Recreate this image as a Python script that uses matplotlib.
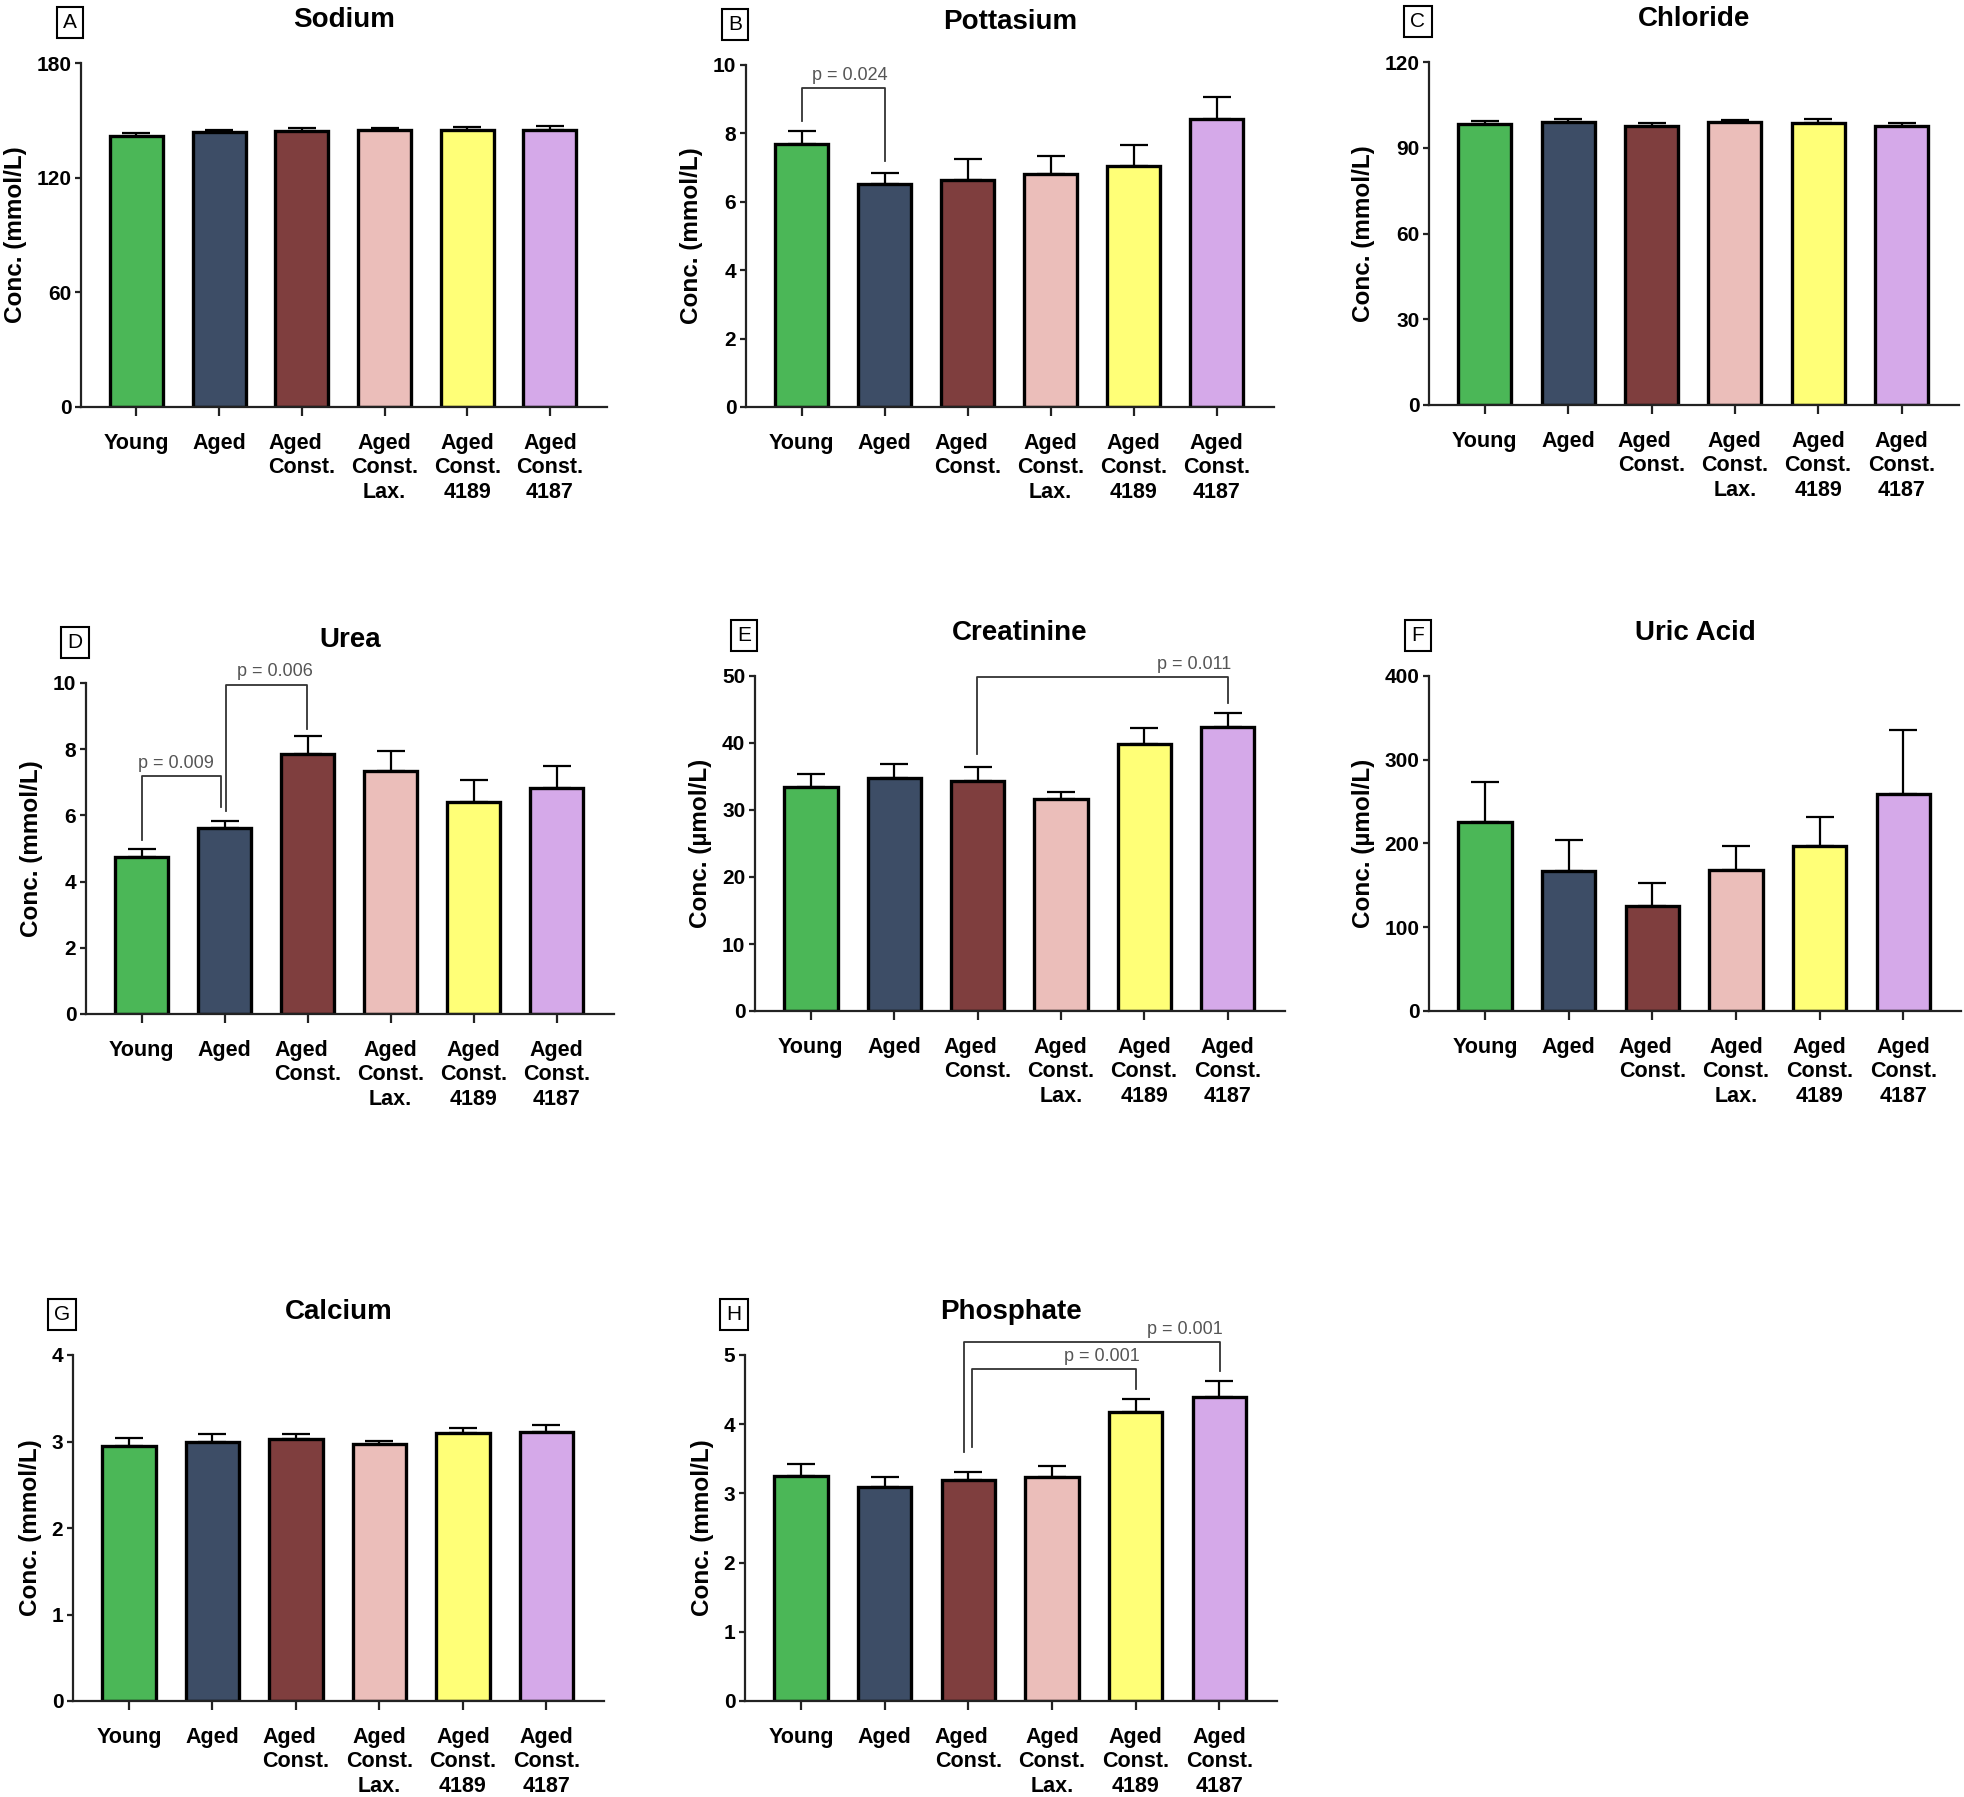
import numpy as np
import matplotlib
matplotlib.use('Agg')
import matplotlib.pyplot as plt

plt.rcParams['font.family'] = ['Liberation Sans', 'DejaVu Sans']

# group names and per-panel values (mean, sem)
groups = ['Young', 'Aged', 'Aged\nConst.', 'Aged\nConst.\nLax.',
          'Aged\nConst.\n4189', 'Aged\nConst.\n4187']

sodium_mean = [142.0, 143.9, 144.6, 145.1, 145.1, 145.1]
sodium_sem = [1.5, 1.2, 1.4, 0.9, 1.4, 2.1]
potassium_mean = [7.69, 6.53, 6.64, 6.82, 7.05, 8.41]
potassium_sem = [0.38, 0.32, 0.62, 0.53, 0.60, 0.66]
chloride_mean = [98.2, 98.9, 97.7, 98.9, 98.6, 97.6]
chloride_sem = [1.2, 1.3, 1.0, 0.9, 1.5, 1.1]
urea_mean = [4.73, 5.61, 7.85, 7.35, 6.41, 6.84]
urea_sem = [0.25, 0.23, 0.55, 0.59, 0.67, 0.65]
creat_mean = [33.5, 34.8, 34.4, 31.7, 39.9, 42.4]
creat_sem = [1.8, 2.0, 2.0, 1.0, 2.3, 2.1]
uric_mean = [226, 167, 125, 168, 197, 259]
uric_sem = [47, 37, 28, 29, 35, 76]
calcium_mean = [2.95, 2.99, 3.03, 2.97, 3.10, 3.11]
calcium_sem = [0.09, 0.10, 0.06, 0.04, 0.06, 0.08]
phosphate_mean = [3.25, 3.09, 3.19, 3.23, 4.17, 4.39]
phosphate_sem = [0.17, 0.14, 0.12, 0.16, 0.20, 0.23]

bar_colors = ['#4BB757', '#3D4D66', '#7F3E3E', '#EBBEBA', '#FFFF77', '#D5A9E9']
mmol = 'Conc. (mmol/L)'
umol = 'Conc. (\u00b5mol/L)'

# letter, title, ylabel, mean, sem, ytop, yticks, axes box in pixels (left, top, right, bottom)
panels = [
    ('A', 'Sodium', mmol, sodium_mean, sodium_sem, 180, [0, 60, 120, 180], (81, 63, 607, 407)),
    ('B', 'Pottasium', mmol, potassium_mean, potassium_sem, 10, [0, 2, 4, 6, 8, 10], (746, 65, 1274, 407)),
    ('C', 'Chloride', mmol, chloride_mean, chloride_sem, 120, [0, 30, 60, 90, 120], (1429, 62, 1959, 405)),
    ('D', 'Urea', mmol, urea_mean, urea_sem, 10, [0, 2, 4, 6, 8, 10], (86, 683, 614, 1014)),
    ('E', 'Creatinine', umol, creat_mean, creat_sem, 50, [0, 10, 20, 30, 40, 50], (755, 676, 1285, 1011)),
    ('F', 'Uric Acid', umol, uric_mean, uric_sem, 400, [0, 100, 200, 300, 400], (1429, 676, 1961, 1011)),
    ('G', 'Calcium', mmol, calcium_mean, calcium_sem, 4, [0, 1, 2, 3, 4], (73, 1355, 604, 1701)),
    ('H', 'Phosphate', mmol, phosphate_mean, phosphate_sem, 5, [0, 1, 2, 3, 4, 5], (745, 1355, 1277, 1701)),
]

# significance brackets: panel -> (x_left, x_right, y_bar, y_left_end, y_right_end, text, text_x)
brackets = {
    'B': [(0.0, 1.0, 9.32, 8.37, 7.2, 'p = 0.024', 0.58)],
    'D': [(0.0, 0.96, 7.19, 5.27, 6.26, 'p = 0.009', 0.41),
          (1.02, 1.99, 9.95, 6.14, 8.62, 'p = 0.006', 1.61)],
    'E': [(1.99, 5.0, 49.8, 38.4, 45.9, 'p = 0.011', 4.6)],
    'H': [(2.04, 4.01, 4.80, 3.67, 4.51, 'p = 0.001', 3.60),
          (1.95, 5.01, 5.19, 3.60, 4.77, 'p = 0.001', 4.59)],
}

align = ['center', 'center', 'left', 'center', 'center', 'center']

W, H = 1964, 1797
fig = plt.figure(figsize=(W / 100, H / 100), dpi=100)

x = np.arange(len(groups))
for letter, title, ylabel, mean, sem, ytop, yticks, box in panels:
    l, t, r, b = box
    ax = fig.add_axes([l / W, 1 - b / H, (r - l) / W, (b - t) / H])
    ax.bar(x, mean, width=0.64, color=bar_colors, edgecolor='black', linewidth=2.4, zorder=2)
    ax.errorbar(x, mean, yerr=[np.zeros(len(mean)), sem], fmt='none', ecolor='black',
                elinewidth=1.6, capsize=10, capthick=1.6, zorder=3)
    ax.set_xlim(-0.67, 5.69)
    ax.set_ylim(0, ytop)
    ax.set_yticks(yticks)
    ax.set_xticks(x)
    ax.set_xticklabels(groups, fontsize=15.5, fontweight='bold', linespacing=1.22)
    for lab, al in zip(ax.get_xticklabels(), align):
        lab.set_multialignment(al)
    for lab in ax.get_yticklabels():
        lab.set_fontweight('bold')
        lab.set_fontsize(15)
    ax.spines['top'].set_visible(False)
    ax.spines['right'].set_visible(False)
    for s in ('left', 'bottom'):
        ax.spines[s].set_linewidth(1.6)
        ax.spines[s].set_color('#222222')
    ax.tick_params(axis='x', length=6.5, width=1.6, pad=12, color='#222222')
    ax.tick_params(axis='y', length=4, width=1.6, pad=3, color='#222222')
    ax.set_ylabel(ylabel, fontsize=17.5, fontweight='bold', labelpad=7)
    ax.set_title(title, fontsize=20, fontweight='bold', pad=26)
    ax.annotate(letter, xy=(0, 1), xycoords='axes fraction', xytext=(-8, 29),
                textcoords='offset points', ha='center', va='center', fontsize=15,
                bbox=dict(boxstyle='square,pad=0.3', fc='white', ec='black', lw=1.5))

    for xl, xr, yb, yl, yr, txt, tx in brackets.get(letter, []):
        ax.plot([xl, xl, xr, xr], [yl, yb, yb, yr], color='#333333', lw=1.3,
                clip_on=False, zorder=4)
        ax.annotate(txt, xy=(tx, yb), xytext=(0, 3), textcoords='offset points',
                    ha='center', va='bottom', fontsize=13, color='#555555',
                    annotation_clip=False)

fig.savefig('out.png', dpi=100, facecolor='white')
